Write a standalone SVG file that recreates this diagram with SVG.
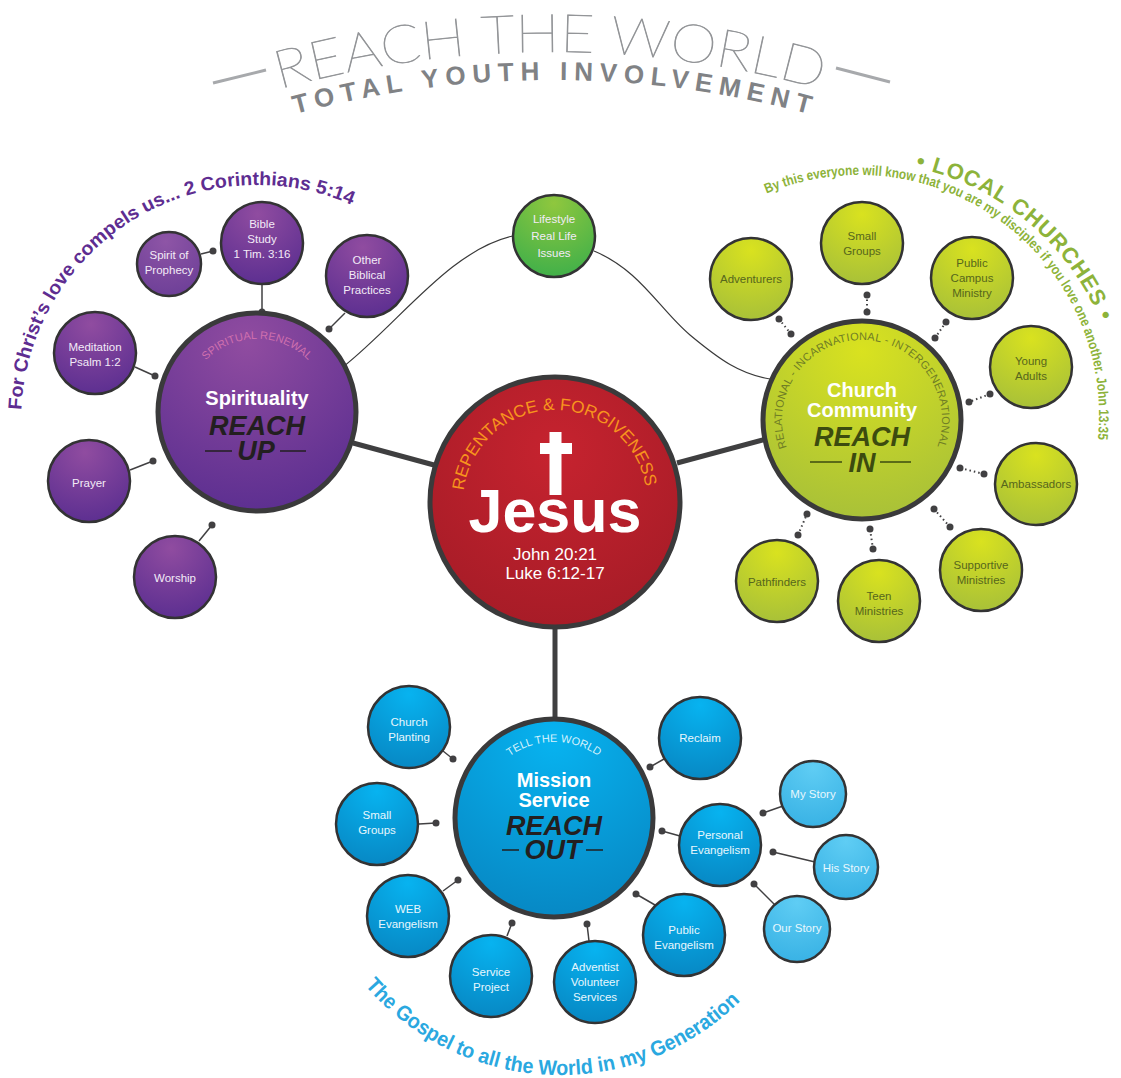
<svg xmlns="http://www.w3.org/2000/svg" width="1121" height="1078" viewBox="0 0 1121 1078">
<defs>
  <radialGradient id="gPurple" cx="0.45" cy="0.15" r="0.95">
    <stop offset="0" stop-color="#904ca0"/>
    <stop offset="1" stop-color="#572c8f"/>
  </radialGradient>
  <radialGradient id="gPurpleL" cx="0.45" cy="0.15" r="0.95">
    <stop offset="0" stop-color="#8e55a6"/>
    <stop offset="1" stop-color="#6a3d96"/>
  </radialGradient>
  <radialGradient id="gGreen" cx="0.5" cy="0.15" r="0.95">
    <stop offset="0" stop-color="#d9e21f"/>
    <stop offset="1" stop-color="#a3bd3b"/>
  </radialGradient>
  <radialGradient id="gLife" cx="0.5" cy="0.1" r="0.95">
    <stop offset="0" stop-color="#8fc73e"/>
    <stop offset="1" stop-color="#3daf4a"/>
  </radialGradient>
  <radialGradient id="gBlue" cx="0.5" cy="0.1" r="0.95">
    <stop offset="0" stop-color="#07b3f0"/>
    <stop offset="1" stop-color="#0786c2"/>
  </radialGradient>
  <radialGradient id="gBlueL" cx="0.5" cy="0.1" r="0.95">
    <stop offset="0" stop-color="#5fcdf4"/>
    <stop offset="1" stop-color="#37b1e4"/>
  </radialGradient>
  <radialGradient id="gRed" cx="0.5" cy="0.3" r="0.8">
    <stop offset="0" stop-color="#c6232f"/>
    <stop offset="1" stop-color="#a31b26"/>
  </radialGradient>
  <path id="pTitle" d="M250,97.8 A1005,1005 0 0,1 850,97.8"/>
  <path id="pSub" d="M270,121.2 A985,985 0 0,1 834,121.2"/>
  <path id="pChrist" d="M21,421 A236,236 0 0,1 375,216.6"/>
  <path id="pLocal" d="M906.8,165.9 A258,258 0 0,1 1111.2,353.2"/>
  <path id="pByThis" d="M757.6,197.5 A240,240 0 0,1 1095.4,456.7"/>
  <path id="pGospel" d="M363.1,983.2 A257,257 0 0,0 756.9,983.2"/>
  <path id="pSpirit" d="M189.3,386.4 A72,72 0 0,1 324.7,386.4"/>
  <path id="pRel" d="M786.8,447.4 A80,80 0 1,1 937.6,446"/>
  <path id="pTell" d="M482.6,791.9 A76,76 0 0,1 625.4,791.9"/>
  <path id="pRep" d="M463.7,490.8 A92,92 0 0,1 645.6,486"/>
</defs>
<style>
  .sat{stroke:#333334;stroke-width:2.5}
  .hub{stroke:#3a3a3b;stroke-width:5}
  .t{font-family:'Liberation Sans',Arial,Helvetica,sans-serif;text-anchor:middle}
  .pt{fill:#f3ebf7;font-size:11.5px}
  .gt{fill:#56661c;font-size:11.5px}
  .bt{fill:#e8f7fd;font-size:11.5px}
  .hd{font-weight:bold;font-size:20px;fill:#ffffff}
  .rc{font-weight:bold;font-style:italic;font-size:27px}
  .ln{stroke:#414042;stroke-width:1.5;fill:none}
  .dot{fill:#414042}
  .dl{stroke:#414042;stroke-width:2;stroke-dasharray:1.5 3;fill:none}
  .thick{stroke:#3f3f40;stroke-width:5;fill:none}
  .curve{stroke:#3a3a3a;stroke-width:1.2;fill:none}
  .arc{font-family:'Liberation Sans',Arial,sans-serif}
</style>
<rect width="1121" height="1078" fill="#ffffff"/>

<g id="title">
  <line x1="213" y1="83" x2="266" y2="70" stroke="#a7a9ac" stroke-width="3"/>
  <line x1="836" y1="68" x2="890" y2="82" stroke="#a7a9ac" stroke-width="3"/>
  <text font-family="'Lato Hairline','Lato Thin','Lato Light',Lato,'Open Sans',sans-serif" font-weight="200" font-size="53" fill="#939598" stroke="#939598" stroke-width="0.7" text-anchor="middle"><textPath href="#pTitle" startOffset="50%" textLength="548" lengthAdjust="spacingAndGlyphs">REACH THE WORLD</textPath></text>
  <text class="arc" font-weight="bold" font-size="26" fill="#808285" text-anchor="middle"><textPath href="#pSub" startOffset="50%" textLength="520" lengthAdjust="spacing">TOTAL YOUTH INVOLVEMENT</textPath></text>
</g>

<g id="captions">
  <text class="arc" font-weight="bold" font-size="19" fill="#5e2d91"><textPath href="#pChrist" startOffset="11" textLength="457" lengthAdjust="spacingAndGlyphs">For Christ’s love compels us... 2 Corinthians 5:14</textPath></text>
  <text class="arc" font-weight="bold" font-size="22" fill="#8db33a"><textPath href="#pLocal" startOffset="9" textLength="250" lengthAdjust="spacing">• LOCAL CHURCHES •</textPath></text>
  <text class="arc" font-weight="bold" font-size="14" fill="#8db33a"><textPath href="#pByThis" startOffset="10" textLength="496" lengthAdjust="spacingAndGlyphs">By this everyone will know that you are my disciples if you love one another. John 13:35</textPath></text>
  <text class="arc" font-weight="bold" font-size="21" fill="#2aa8e0"><textPath href="#pGospel" startOffset="3" textLength="421" lengthAdjust="spacingAndGlyphs">The Gospel to all the World in my Generation</textPath></text>
</g>

<g id="connectors">
  <line class="thick" x1="353" y1="443" x2="434" y2="465"/>
  <line class="thick" x1="677" y1="463" x2="766" y2="439"/>
  <line class="thick" x1="555" y1="628" x2="555" y2="720"/>
  <path class="curve" d="M343,367 C400,322 450,250 513,236"/>
  <path class="curve" d="M594,251 C640,270 660,310 690,335 C720,360 740,374 770,379"/>
  <line class="ln" x1="262" y1="284" x2="262" y2="312"/><circle class="dot" cx="262" cy="312" r="3.5"/>
  <line class="ln" x1="201" y1="254" x2="213" y2="251"/><circle class="dot" cx="213" cy="251" r="3.5"/>
  <line class="ln" x1="345" y1="313" x2="329" y2="329"/><circle class="dot" cx="329" cy="329" r="3.5"/>
  <line class="ln" x1="135" y1="367" x2="155" y2="376"/><circle class="dot" cx="155" cy="376" r="3.5"/>
  <line class="ln" x1="130" y1="470" x2="153" y2="461"/><circle class="dot" cx="153" cy="461" r="3.5"/>
  <line class="ln" x1="199" y1="541" x2="212" y2="525"/><circle class="dot" cx="212" cy="525" r="3.5"/>
  <line class="dl" x1="867" y1="295" x2="867" y2="312"/><circle class="dot" cx="867" cy="295" r="3.5"/><circle class="dot" cx="867" cy="312" r="3.5"/>
  <line class="dl" x1="779" y1="319" x2="791" y2="334"/><circle class="dot" cx="779" cy="319" r="3.5"/><circle class="dot" cx="791" cy="334" r="3.5"/>
  <line class="dl" x1="946" y1="322" x2="935" y2="338"/><circle class="dot" cx="946" cy="322" r="3.5"/><circle class="dot" cx="935" cy="338" r="3.5"/>
  <line class="dl" x1="990" y1="394" x2="969" y2="402"/><circle class="dot" cx="990" cy="394" r="3.5"/><circle class="dot" cx="969" cy="402" r="3.5"/>
  <line class="dl" x1="984" y1="474" x2="960" y2="468"/><circle class="dot" cx="984" cy="474" r="3.5"/><circle class="dot" cx="960" cy="468" r="3.5"/>
  <line class="dl" x1="950" y1="527" x2="934" y2="509"/><circle class="dot" cx="950" cy="527" r="3.5"/><circle class="dot" cx="934" cy="509" r="3.5"/>
  <line class="dl" x1="873" y1="549" x2="870" y2="529"/><circle class="dot" cx="873" cy="549" r="3.5"/><circle class="dot" cx="870" cy="529" r="3.5"/>
  <line class="dl" x1="798" y1="535" x2="807" y2="514"/><circle class="dot" cx="798" cy="535" r="3.5"/><circle class="dot" cx="807" cy="514" r="3.5"/>
  <line class="ln" x1="443" y1="751" x2="453" y2="759"/><circle class="dot" cx="453" cy="759" r="3.5"/>
  <line class="ln" x1="419" y1="824" x2="436" y2="823"/><circle class="dot" cx="436" cy="823" r="3.5"/>
  <line class="ln" x1="443" y1="891" x2="458" y2="880"/><circle class="dot" cx="458" cy="880" r="3.5"/>
  <line class="ln" x1="507" y1="936" x2="512" y2="923"/><circle class="dot" cx="512" cy="923" r="3.5"/>
  <line class="ln" x1="589" y1="941" x2="587" y2="924"/><circle class="dot" cx="587" cy="924" r="3.5"/>
  <line class="ln" x1="655" y1="905" x2="636" y2="894"/><circle class="dot" cx="636" cy="894" r="3.5"/>
  <line class="ln" x1="664" y1="759" x2="650" y2="767"/><circle class="dot" cx="650" cy="767" r="3.5"/>
  <line class="ln" x1="680" y1="836" x2="662" y2="831"/><circle class="dot" cx="662" cy="831" r="3.5"/>
  <line class="ln" x1="783" y1="806" x2="763" y2="813"/><circle class="dot" cx="763" cy="813" r="3.5"/>
  <line class="ln" x1="815" y1="862" x2="773" y2="852"/><circle class="dot" cx="773" cy="852" r="3.5"/>
  <line class="ln" x1="776" y1="906" x2="754" y2="884"/><circle class="dot" cx="754" cy="884" r="3.5"/>
</g>

<g id="jesus">
  <circle class="hub" cx="555" cy="502" r="125" fill="url(#gRed)"/>
  <text class="arc" font-size="17" fill="#f7941d"><textPath href="#pRep" textLength="262" lengthAdjust="spacingAndGlyphs">REPENTANCE &amp; FORGIVENESS</textPath></text>
  <rect x="549.5" y="432" width="12" height="63" fill="#ffffff"/>
  <rect x="540" y="443" width="32" height="11" fill="#ffffff"/>
  <text class="t" x="555" y="532" font-size="61" font-weight="bold" fill="#ffffff">Jesus</text>
  <text class="t" x="555" y="560" font-size="17" fill="#ffffff">John 20:21</text>
  <text class="t" x="555" y="579" font-size="17" fill="#ffffff">Luke 6:12-17</text>
</g>

<g id="spirituality">
  <circle class="hub" cx="257" cy="412" r="99" fill="url(#gPurple)"/>
  <text class="arc" font-size="11" fill="#cf6fae" text-anchor="middle"><textPath href="#pSpirit" startOffset="50%">SPIRITUAL RENEWAL</textPath></text>
  <text class="t hd" x="257" y="405">Spirituality</text>
  <text class="t rc" x="257" y="435" fill="#231f20">REACH</text>
  <text class="t rc" x="256" y="460" fill="#231f20">UP</text>
  <line x1="205" y1="451" x2="232" y2="451" stroke="#231f20" stroke-width="1.5"/>
  <line x1="280" y1="451" x2="306" y2="451" stroke="#231f20" stroke-width="1.5"/>
</g>
<g id="bible-study"><circle class="sat" cx="262" cy="243" r="41" fill="url(#gPurple)"/>
  <text class="t pt" x="262" y="228">Bible</text><text class="t pt" x="262" y="243">Study</text><text class="t pt" x="262" y="258">1 Tim. 3:16</text></g>
<g id="spirit-of-prophecy"><circle class="sat" cx="169" cy="264" r="32" fill="url(#gPurpleL)"/>
  <text class="t pt" x="169" y="259" font-size="11">Spirit of</text><text class="t pt" x="169" y="273.5" font-size="11">Prophecy</text></g>
<g id="other-biblical"><circle class="sat" cx="367" cy="276" r="41" fill="url(#gPurple)"/>
  <text class="t pt" x="367" y="264">Other</text><text class="t pt" x="367" y="279">Biblical</text><text class="t pt" x="367" y="294">Practices</text></g>
<g id="meditation"><circle class="sat" cx="95" cy="353" r="41" fill="url(#gPurple)"/>
  <text class="t pt" x="95" y="351">Meditation</text><text class="t pt" x="95" y="366">Psalm 1:2</text></g>
<g id="prayer"><circle class="sat" cx="89" cy="481" r="41" fill="url(#gPurple)"/>
  <text class="t pt" x="89" y="487">Prayer</text></g>
<g id="worship"><circle class="sat" cx="175" cy="577" r="41" fill="url(#gPurple)"/>
  <text class="t pt" x="175" y="582">Worship</text></g>

<g id="lifestyle"><circle class="sat" cx="554" cy="236" r="41" fill="url(#gLife)"/>
  <text class="t pt" x="554" y="223" font-size="12" fill="#ffffff">Lifestyle</text><text class="t pt" x="554" y="240" font-size="12" fill="#ffffff">Real Life</text><text class="t pt" x="554" y="257" font-size="12" fill="#ffffff">Issues</text></g>

<g id="church-community">
  <circle class="hub" cx="862" cy="420" r="99" fill="url(#gGreen)"/>
  <text class="arc" font-size="11" fill="#6f7d25"><textPath href="#pRel" textLength="306" lengthAdjust="spacing">RELATIONAL - INCARNATIONAL - INTERGENERATIONAL</textPath></text>
  <text class="t hd" x="862" y="397">Church</text>
  <text class="t hd" x="862" y="417">Community</text>
  <text class="t rc" x="862" y="446" fill="#3c4b0f">REACH</text>
  <text class="t rc" x="862" y="472" fill="#3c4b0f">IN</text>
  <line x1="810" y1="462" x2="842" y2="462" stroke="#3c4b0f" stroke-width="1.5"/>
  <line x1="880" y1="462" x2="911" y2="462" stroke="#3c4b0f" stroke-width="1.5"/>
</g>
<g id="small-groups-g"><circle class="sat" cx="862" cy="243" r="41" fill="url(#gGreen)"/>
  <text class="t gt" x="862" y="240">Small</text><text class="t gt" x="862" y="255">Groups</text></g>
<g id="adventurers"><circle class="sat" cx="751" cy="279" r="41" fill="url(#gGreen)"/>
  <text class="t gt" x="751" y="283">Adventurers</text></g>
<g id="public-campus"><circle class="sat" cx="972" cy="278" r="41" fill="url(#gGreen)"/>
  <text class="t gt" x="972" y="267">Public</text><text class="t gt" x="972" y="282">Campus</text><text class="t gt" x="972" y="297">Ministry</text></g>
<g id="young-adults"><circle class="sat" cx="1031" cy="367" r="41" fill="url(#gGreen)"/>
  <text class="t gt" x="1031" y="365">Young</text><text class="t gt" x="1031" y="380">Adults</text></g>
<g id="ambassadors"><circle class="sat" cx="1036" cy="484" r="41" fill="url(#gGreen)"/>
  <text class="t gt" x="1036" y="488">Ambassadors</text></g>
<g id="supportive"><circle class="sat" cx="981" cy="570" r="41" fill="url(#gGreen)"/>
  <text class="t gt" x="981" y="569">Supportive</text><text class="t gt" x="981" y="584">Ministries</text></g>
<g id="teen"><circle class="sat" cx="879" cy="601" r="41" fill="url(#gGreen)"/>
  <text class="t gt" x="879" y="600">Teen</text><text class="t gt" x="879" y="615">Ministries</text></g>
<g id="pathfinders"><circle class="sat" cx="777" cy="581" r="41" fill="url(#gGreen)"/>
  <text class="t gt" x="777" y="586">Pathfinders</text></g>

<g id="mission-service">
  <circle class="hub" cx="554" cy="818" r="99" fill="url(#gBlue)"/>
  <text class="arc" font-size="11" fill="#d5f1fc" text-anchor="middle"><textPath href="#pTell" startOffset="50%">TELL THE WORLD</textPath></text>
  <text class="t hd" x="554" y="787">Mission</text>
  <text class="t hd" x="554" y="807">Service</text>
  <text class="t rc" x="554" y="835" fill="#231f20">REACH</text>
  <text class="t rc" x="553" y="859" fill="#231f20">OUT</text>
  <line x1="502" y1="850" x2="519" y2="850" stroke="#231f20" stroke-width="1.5"/>
  <line x1="586" y1="850" x2="603" y2="850" stroke="#231f20" stroke-width="1.5"/>
</g>
<g id="church-planting"><circle class="sat" cx="409" cy="727" r="41" fill="url(#gBlue)"/>
  <text class="t bt" x="409" y="726">Church</text><text class="t bt" x="409" y="741">Planting</text></g>
<g id="small-groups-b"><circle class="sat" cx="377" cy="824" r="41" fill="url(#gBlue)"/>
  <text class="t bt" x="377" y="819">Small</text><text class="t bt" x="377" y="834">Groups</text></g>
<g id="web-evangelism"><circle class="sat" cx="408" cy="916" r="41" fill="url(#gBlue)"/>
  <text class="t bt" x="408" y="913">WEB</text><text class="t bt" x="408" y="928">Evangelism</text></g>
<g id="service-project"><circle class="sat" cx="491" cy="976" r="41" fill="url(#gBlue)"/>
  <text class="t bt" x="491" y="976">Service</text><text class="t bt" x="491" y="991">Project</text></g>
<g id="avs"><circle class="sat" cx="595" cy="982" r="41" fill="url(#gBlue)"/>
  <text class="t bt" x="595" y="971">Adventist</text><text class="t bt" x="595" y="986">Volunteer</text><text class="t bt" x="595" y="1001">Services</text></g>
<g id="public-evangelism"><circle class="sat" cx="684" cy="935" r="41" fill="url(#gBlue)"/>
  <text class="t bt" x="684" y="934">Public</text><text class="t bt" x="684" y="949">Evangelism</text></g>
<g id="reclaim"><circle class="sat" cx="700" cy="738" r="41" fill="url(#gBlue)"/>
  <text class="t bt" x="700" y="742">Reclaim</text></g>
<g id="personal-evangelism"><circle class="sat" cx="720" cy="845" r="41" fill="url(#gBlue)"/>
  <text class="t bt" x="720" y="839">Personal</text><text class="t bt" x="720" y="854">Evangelism</text></g>
<g id="my-story"><circle class="sat" cx="813" cy="794" r="33" fill="url(#gBlueL)"/>
  <text class="t bt" x="813" y="798" font-size="11">My Story</text></g>
<g id="his-story"><circle class="sat" cx="846" cy="867" r="32" fill="url(#gBlueL)"/>
  <text class="t bt" x="846" y="872" font-size="11">His Story</text></g>
<g id="our-story"><circle class="sat" cx="797" cy="929" r="33" fill="url(#gBlueL)"/>
  <text class="t bt" x="797" y="932" font-size="11">Our Story</text></g>
</svg>
